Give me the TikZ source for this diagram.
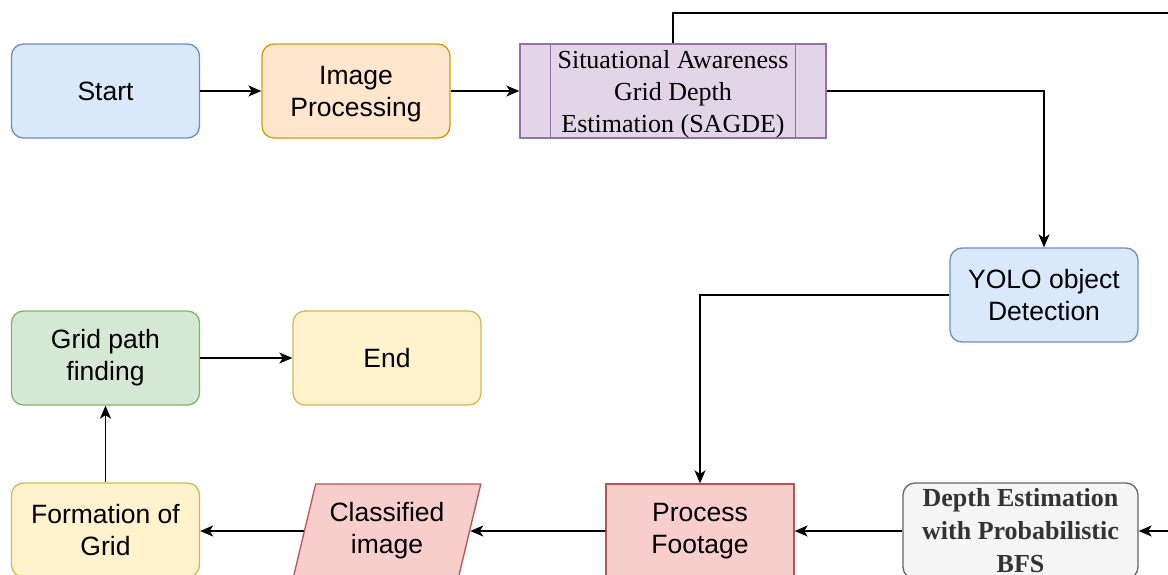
\documentclass[tikz,border=0pt]{standalone}
\usepackage{fontspec}
\setmainfont{Liberation Serif}
\setsansfont{Liberation Sans}
\usetikzlibrary{shapes.geometric,arrows.meta}
\definecolor{bluef}{HTML}{DAE8FC}\definecolor{blued}{HTML}{6C8EBF}
\definecolor{orf}{HTML}{FFE6CC}\definecolor{ord}{HTML}{D79B00}
\definecolor{puf}{HTML}{E1D5E7}\definecolor{pud}{HTML}{9673A6}
\definecolor{grf}{HTML}{D5E8D4}\definecolor{grd}{HTML}{82B366}
\definecolor{yef}{HTML}{FFF2CC}\definecolor{yed}{HTML}{D6B656}
\definecolor{ref}{HTML}{F8CECC}\definecolor{red2}{HTML}{B85450}
\definecolor{gyf}{HTML}{F5F5F5}\definecolor{gyd}{HTML}{666666}
\definecolor{gyt}{HTML}{333333}
\tikzset{
  box/.style={draw, line width=1.3pt, minimum width=188pt, minimum height=94pt, inner sep=0pt, align=center,
    font=\sffamily\fontsize{26.5}{32}\selectfont},
  rbox/.style={box, rounded corners=12pt},
  conn/.style={line width=1.6pt, -{Stealth[length=13pt,width=11pt,inset=3.5pt]}},
  plain/.style={line width=1.6pt},
}
\begin{document}
\begin{tikzpicture}[x=1pt,y=-1pt]
\useasboundingbox (0,0) rectangle (1168,574);
\clip (0,0) rectangle (1168,574);
\node[rbox, fill=bluef, draw=blued] (start) at (105.5,91) {Start};
\node[rbox, fill=orf, draw=ord, text depth=0pt] (imgp) at (356,91) {Image\\Processing};
\node[box, fill=puf, draw=pud, minimum width=306pt, text depth=0pt, font=\rmfamily\fontsize{26}{32}\selectfont] (sag) at (673,91) {Situational Awareness\\Grid Depth\\Estimation (SAGDE)};
\draw[draw=pud, line width=1.3pt] ([xshift=31pt]sag.north west) -- ([xshift=31pt]sag.south west);
\draw[draw=pud, line width=1.3pt] ([xshift=-31pt]sag.north east) -- ([xshift=-31pt]sag.south east);
\node[rbox, fill=bluef, draw=blued] (yolo) at (1044,295) {YOLO object\\Detection};
\node[rbox, fill=grf, draw=grd] (gp) at (105.5,358) {Grid path\\finding};
\node[rbox, fill=yef, draw=yed] (end) at (387,358) {End};
\node[rbox, fill=yef, draw=yed] (form) at (105.5,530) {Formation of\\Grid};
\node[box, trapezium, trapezium left angle=72.3, trapezium right angle=107.7, trapezium stretches=true,
  fill=ref, draw=red2] (cls) at (387,531) {Classified\\image};
\node[box, fill=ref, draw=red2] (pf) at (700,531) {Process\\Footage};
\node[rbox, fill=gyf, draw=gyd, minimum width=235pt, minimum height=96pt, text=gyt,
  font=\rmfamily\bfseries\fontsize{26}{33}\selectfont] (depth) at (1020.5,531) {Depth Estimation\\with Probabilistic\\BFS};
\coordinate (topr) at (1180,13);
\coordinate (inr) at (1180,531);
\draw[conn] (start) -- (imgp);
\draw[conn] (imgp) -- (sag);
\draw[conn] (sag.east) -| (yolo.north);
\draw[plain] (sag.north) |- (topr);
\draw[conn] (yolo.west) -| (pf.north);
\draw[conn] (inr) -- (depth.east);
\draw[conn] (depth.west) -- (pf.east);
\draw[conn] (pf.west) -- (cls.east);
\draw[conn] (cls.west) -- (form.east |- cls.west);
\draw[conn] (form.north) -- (gp.south);
\draw[conn] (gp.east) -- (end.west);
\end{tikzpicture}
\end{document}
